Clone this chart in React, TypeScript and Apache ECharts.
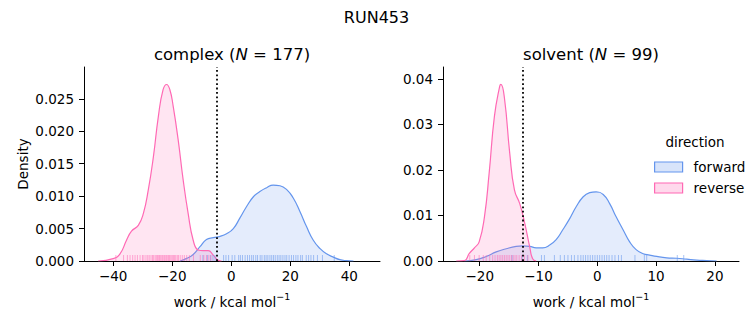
import React, { useEffect, useRef } from "react";
import * as echarts from "echarts";

const FWD = "#6495ED";
const REV = "#FF69B4";
const FWD_FILL = "rgba(100,149,237,0.25)";
const REV_FILL = "rgba(255,105,180,0.25)";

// KDE curves
const complexForwardX = [-17.4, -15.1, -12.9, -10.6, -8.4, -6.1, -3.8, -1.6, 0.7, 2.9, 5.2, 7.5, 9.7, 12, 14.2, 16.5, 18.8, 21, 23.3, 25.5, 27.8, 30.1, 32.3, 34.6, 36.8, 39.1, 41.4];
const complexForwardY = [0, 0.0004, 0.001, 0.0022, 0.0033, 0.0036, 0.0038, 0.0042, 0.005, 0.0066, 0.0084, 0.0099, 0.0107, 0.0113, 0.0117, 0.0116, 0.011, 0.0097, 0.0076, 0.0053, 0.0032, 0.0019, 0.0011, 0.0006, 0.0002, 0.00005, 0];
const complexReverseX = [-45.1, -40, -37.7, -35.5, -33.8, -31.5, -29.8, -28.1, -26.4, -24.7, -23.1, -21.9, -20.8, -19.7, -18, -16.3, -14.6, -12.9, -11.2, -9.5, -7.8, -6.1, -4.4, -3.3];
const complexReverseY = [0, 0.00036, 0.0011, 0.0032, 0.0046, 0.0055, 0.0073, 0.011, 0.016, 0.0223, 0.0264, 0.0272, 0.0264, 0.0239, 0.0187, 0.0125, 0.0073, 0.0032, 0.0017, 0.0016, 0.0016, 0.0009, 0.0001, 0];
const solventForwardX = [-22.6, -20.6, -18.9, -17.2, -15.5, -13.8, -12.7, -11.5, -10.4, -9.3, -8.1, -7, -5.9, -4.7, -3.6, -2.4, -1.3, -0.2, 1, 2.1, 3.2, 4.4, 5.5, 6.6, 7.8, 8.9, 10.1, 11.8, 13.5, 15.2, 16.9, 18.6, 20.3];
const solventForwardY = [0, 0.0003, 0.001, 0.002, 0.0027, 0.0032, 0.0033, 0.0032, 0.0029, 0.0029, 0.0035, 0.0047, 0.0068, 0.0093, 0.0119, 0.0141, 0.015, 0.0152, 0.0146, 0.0126, 0.0097, 0.0068, 0.0042, 0.0025, 0.0016, 0.0013, 0.001, 0.0007, 0.0006, 0.0004, 0.0002, 0.0001, 0];
const solventReverseX = [-24, -22.6, -21.8, -20.9, -20.1, -19.2, -18.4, -17.5, -16.6, -16.4, -15.8, -14.9, -14.1, -13.2, -12.4, -11.5, -11, -10.4];
const solventReverseY = [0, 0.0001, 0.0016, 0.0029, 0.0042, 0.0097, 0.0193, 0.0318, 0.0384, 0.0388, 0.0358, 0.0237, 0.0156, 0.0126, 0.0086, 0.0031, 0.0005, 0];

// rug values
const complexForwardRug = [-9.6, -8.1, -7.0, -6.2, -5.5, -2.6, -1.8, -0.9, 0.3, 1.2, 2.5, 3.1, 3.8, 4.7, 5.5, 6.2, 6.9, 7.5, 8.3, 8.9, 9.8, 10.4, 11.2, 11.8, 12.4, 13.1, 13.7, 14.3, 14.9, 15.6, 16.2, 16.8, 17.5, 18.2, 18.8, 19.6, 20.4, 21.1, 21.9, 22.6, 23.5, 24.1, 25.4, 26.2, 27.0, 27.9, 29.2, 30.9, 34.9];
const complexReverseRug = [-39.1, -36.5, -35.2, -34.3, -33.4, -32.6, -31.8, -30.9, -30.1, -29.6, -28.9, -28.3, -27.8, -27.2, -26.7, -26.3, -25.8, -25.4, -25.0, -24.6, -24.3, -23.9, -23.5, -23.2, -22.8, -22.5, -22.1, -21.8, -21.4, -21.1, -20.8, -20.4, -20.0, -19.6, -19.2, -18.8, -18.3, -17.9, -17.3, -16.6, -15.9, -15.1, -14.2, -12.8, -10.5, -9.3, -8.4, -7.6, -6.9];
const solventForwardRug = [-14.5, -12.8, -11.9, -9.5, -9.0, -7.3, -6.3, -5.6, -5.0, -4.4, -3.9, -3.3, -2.8, -2.4, -2.0, -1.6, -1.2, -0.8, -0.4, 0.0, 0.4, 0.8, 1.2, 1.6, 2.0, 2.5, 3.0, 3.6, 4.1, 6.4, 8.0, 8.4, 13.6, 14.7];
const solventReverseRug = [-21.7, -20.9, -20.1, -19.4, -18.9, -18.3, -17.8, -17.4, -17.0, -16.7, -16.4, -16.1, -15.8, -15.5, -15.2, -14.9, -14.6, -14.3, -14.0, -13.7, -13.3, -12.9, -12.4, -11.8];

// axes ticks
const complexXTicks = [-40, -20, 0, 20, 40];
const solventXTicks = [-20, -10, 0, 10, 20];
const complexYTicks = [0, 0.005, 0.01, 0.015, 0.02, 0.025];
const solventYTicks = [0, 0.01, 0.02, 0.03, 0.04];

const complexCut = -4.9;
const solventCut = -12.7;

const FONT = "DejaVu Sans";
const TICK_FS = 13.5;
const TITLE_FS = 16.5;

const minus = (s: string) => s.replace("-", "\u2212");

function xAxis(idx: number, min: number, max: number, ticks: number[]) {
  return {
    type: "value",
    gridIndex: idx,
    min,
    max,
    name: "{a|work / kcal mol}{s|\u22121}",
    nameLocation: "middle",
    nameGap: 30,
    nameTextStyle: {
      color: "#000",
      rich: {
        a: { fontSize: TICK_FS, fontFamily: FONT, color: "#000", lineHeight: 18, verticalAlign: "bottom" },
        s: { fontSize: 9.5, fontFamily: FONT, color: "#000", lineHeight: 18, verticalAlign: "top" },
      },
    },
    splitLine: { show: false },
    axisLine: { show: true, onZero: false, lineStyle: { color: "#000", width: 1 } },
    axisTick: { show: true, length: 5, lineStyle: { color: "#000", width: 1 }, customValues: ticks },
    axisLabel: {
      color: "#000",
      fontSize: TICK_FS,
      fontFamily: FONT,
      margin: 8,
      customValues: ticks,
      formatter: (v: number) => minus(String(v)),
    },
  };
}

function yAxis(idx: number, max: number, ticks: number[], digits: number, withName: boolean) {
  return {
    type: "value",
    gridIndex: idx,
    min: 0,
    max,
    name: withName ? "Density" : "",
    nameLocation: "middle",
    nameGap: 54,
    nameTextStyle: { color: "#000", fontSize: TICK_FS, fontFamily: FONT },
    splitLine: { show: false },
    axisLine: { show: true, onZero: false, lineStyle: { color: "#000", width: 1 } },
    axisTick: { show: true, length: 5, lineStyle: { color: "#000", width: 1 }, customValues: ticks },
    axisLabel: {
      color: "#000",
      fontSize: TICK_FS,
      fontFamily: FONT,
      margin: 10,
      customValues: ticks,
      formatter: (v: number) => v.toFixed(digits),
    },
  };
}

function kde(name: string, xs: number[], ys: number[], idx: number, color: string, fill: string, z: number, cut?: number) {
  const s: any = {
    name,
    type: "line",
    xAxisIndex: idx,
    yAxisIndex: idx,
    data: xs.map((x, i) => [x, ys[i]]),
    smooth: 0.5,
    showSymbol: false,
    symbol: "none",
    lineStyle: { color, width: 1.2 },
    itemStyle: { color },
    areaStyle: { color: fill, origin: "start" },
    z,
    silent: true,
  };
  if (cut !== undefined) {
    s.markLine = {
      silent: true,
      symbol: ["none", "none"],
      label: { show: false },
      lineStyle: { color: "#000", type: [1.8, 2.6], width: 1.8 },
      data: [{ xAxis: cut }],
      z: 10,
    };
  }
  return s;
}

function rug(name: string, vals: number[], idx: number, color: string) {
  return {
    name,
    type: "scatter",
    xAxisIndex: idx,
    yAxisIndex: idx,
    data: vals.map((v) => [v, 0]),
    symbol: "rect",
    symbolSize: [1, 6],
    symbolOffset: [0, -3],
    itemStyle: { color, opacity: 0.55 },
    z: 4,
    silent: true,
  };
}

function subTitle(x: number, label: string, n: string) {
  return {
    type: "text",
    x,
    y: 54,
    style: {
      text: `{a|${label} (}{i|N}{a| = ${n})}`,
      align: "center",
      verticalAlign: "middle",
      fill: "#000",
      rich: {
        a: { fontSize: TITLE_FS, fontFamily: FONT, fill: "#000" },
        i: { fontSize: TITLE_FS, fontFamily: FONT, fontStyle: "italic", fill: "#000" },
      },
    },
  };
}

export default function App() {
  const ref = useRef<HTMLDivElement>(null);
  useEffect(() => {
    if (!ref.current) return;
    const chart = echarts.init(ref.current, undefined, { renderer: "svg" });
    chart.setOption({
      animation: false,
      backgroundColor: "#fff",
      textStyle: { fontFamily: FONT },
      title: {
        text: "RUN453",
        left: "center",
        top: 4,
        textStyle: { fontSize: 16, fontWeight: "normal", color: "#000", fontFamily: FONT },
      },
      graphic: [
        subTitle(232, "complex", "177"),
        subTitle(591, "solvent", "99"),
        {
          type: "text",
          x: 695,
          y: 142,
          style: {
            text: "direction",
            align: "center",
            verticalAlign: "middle",
            fill: "#000",
            fontSize: TICK_FS,
            fontFamily: FONT,
          },
        },
      ],
      legend: {
        orient: "vertical",
        left: 649,
        top: 154,
        itemWidth: 28,
        itemHeight: 10,
        itemGap: 5,
        icon: "rect",
        selectedMode: false,
        textStyle: { fontSize: TICK_FS, fontFamily: FONT, color: "#000", lineHeight: 16, padding: [0, 0, 0, 6] },
        data: [
          { name: "forward", itemStyle: { color: FWD_FILL, borderColor: FWD, borderWidth: 1.2 } },
          { name: "reverse", itemStyle: { color: REV_FILL, borderColor: REV, borderWidth: 1.2 } },
        ],
      },
      grid: [
        { left: 84, top: 67, width: 296, height: 194 },
        { left: 443, top: 67, width: 296, height: 194 },
      ],
      xAxis: [xAxis(0, -49.9, 50.4, complexXTicks), xAxis(1, -26.25, 24.1, solventXTicks)],
      yAxis: [yAxis(0, 0.0299, complexYTicks, 3, true), yAxis(1, 0.0426, solventYTicks, 2, false)],
      series: [
        kde("forward", complexForwardX, complexForwardY, 0, FWD, FWD_FILL, 2),
        kde("reverse", complexReverseX, complexReverseY, 0, REV, REV_FILL, 3, complexCut),
        kde("forward", solventForwardX, solventForwardY, 1, FWD, FWD_FILL, 2),
        kde("reverse", solventReverseX, solventReverseY, 1, REV, REV_FILL, 3, solventCut),
        rug("forward rug", complexForwardRug, 0, FWD),
        rug("reverse rug", complexReverseRug, 0, REV),
        rug("forward rug", solventForwardRug, 1, FWD),
        rug("reverse rug", solventReverseRug, 1, REV),
      ],
    });
    return () => chart.dispose();
  }, []);
  return <div ref={ref} style={{ position: "fixed", left: 0, top: 0, width: 753, height: 325 }} />;
}
